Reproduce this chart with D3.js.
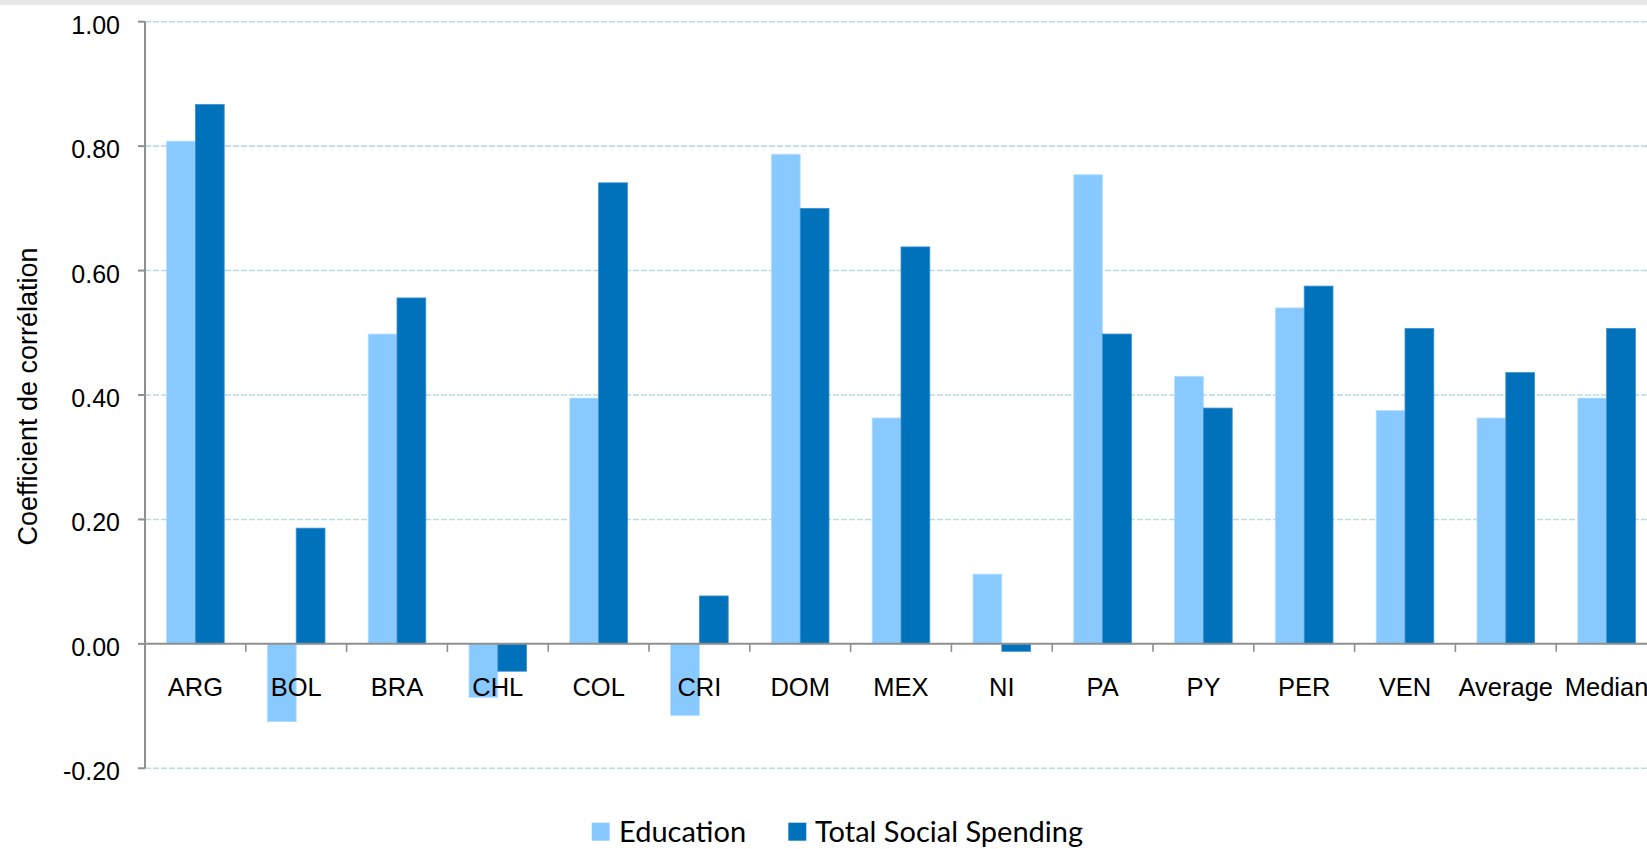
<!DOCTYPE html>
<html>
<head>
<meta charset="utf-8">
<script src="https://cdn.jsdelivr.net/npm/d3@7"></script>
<style>
  html,body{margin:0;padding:0;background:#fff;overflow:hidden;}
  svg{display:block;}
  .tick-y{font-family:"Liberation Sans",Arial,sans-serif;font-size:25px;fill:#000;}
  .tick-x{font-family:"Liberation Sans",Arial,sans-serif;font-size:25.5px;fill:#000;}
  .ytitle{font-family:"Liberation Sans",Arial,sans-serif;font-size:27px;fill:#000;}
  .legend{font-family:Lato,"Open Sans",sans-serif;font-size:29px;fill:#000;}
</style>
</head>
<body>
<svg id="chart" width="1647" height="849"></svg>
<script>
// données
const categories=["ARG","BOL","BRA","CHL","COL","CRI","DOM","MEX","NI","PA","PY","PER","VEN","Average","Median"];
const education=[0.808,-0.125,0.498,-0.086,0.395,-0.115,0.787,0.363,0.112,0.754,0.430,0.540,0.375,0.363,0.395];
const totalSocial=[0.867,0.186,0.556,-0.044,0.741,0.077,0.700,0.638,-0.012,0.498,0.379,0.575,0.507,0.436,0.507];
const seriesNames=["Education","Total Social Spending"];
const seriesColors=["#88caff","#0072bc"];
const strokeColors=["#b3deff","#3b8fd0"];
const yTicks=[-0.2,0,0.2,0.4,0.6,0.8,1.0];

const W=1647,H=849;
const svg=d3.select("#chart");

// bande grise en haut
svg.append("rect").attr("x",0).attr("y",0).attr("width",W).attr("height",5).attr("fill","#e8e8e8");

const plotLeft=145,plotTop=21.7,plotBottom=768.3;
const bandW=100.8;
const x0=d3.scaleBand().domain(categories).range([plotLeft,plotLeft+bandW*categories.length]).padding(0);
const x1=d3.scaleBand().domain(seriesNames).range([0,x0.bandwidth()]).paddingInner(0).paddingOuter(0.75);
const y=d3.scaleLinear().domain([-0.2,1.0]).range([plotBottom,plotTop]);

// grille pointillée
svg.append("g").selectAll("line").data(yTicks.filter(d=>d!==0)).join("line")
  .attr("x1",plotLeft).attr("x2",W)
  .attr("y1",d=>y(d)).attr("y2",d=>y(d))
  .attr("stroke","#b8dde2").attr("stroke-width",1.6).attr("stroke-dasharray","6,2");

// barres
const rows=categories.map((c,i)=>({cat:c,vals:[education[i],totalSocial[i]]}));
const grp=svg.append("g").selectAll("g").data(rows).join("g")
  .attr("transform",d=>`translate(${x0(d.cat)},0)`);
grp.selectAll("rect").data(d=>d.vals.map((v,k)=>({v,k}))).join("rect")
  .attr("x",d=>x1(seriesNames[d.k]))
  .attr("width",x1.bandwidth())
  .attr("y",d=>Math.min(y(d.v),y(0)))
  .attr("height",d=>Math.abs(y(d.v)-y(0)))
  .attr("fill",d=>seriesColors[d.k])
  .attr("stroke",d=>strokeColors[d.k]).attr("stroke-width",0.8);

// axe Y
const axisColor="#8f8f8f";
svg.append("line").attr("x1",plotLeft).attr("x2",plotLeft).attr("y1",plotTop).attr("y2",plotBottom)
  .attr("stroke",axisColor).attr("stroke-width",2);
svg.append("g").selectAll("line").data(yTicks).join("line")
  .attr("x1",plotLeft-7).attr("x2",plotLeft).attr("y1",d=>y(d)).attr("y2",d=>y(d))
  .attr("stroke",axisColor).attr("stroke-width",2);
const fmt=d=>d3.format(".2f")(d).replace("\u2212","-");
svg.append("g").selectAll("text").data(yTicks).join("text")
  .attr("class","tick-y")
  .attr("x",120).attr("y",d=>y(d)+12)
  .attr("text-anchor","end")
  .text(fmt);

// axe X au niveau zéro
const y0=y(0);
svg.append("line").attr("x1",plotLeft).attr("x2",W).attr("y1",y0).attr("y2",y0)
  .attr("stroke",axisColor).attr("stroke-width",2);
svg.append("g").selectAll("line").data(categories).join("line")
  .attr("x1",d=>x0(d)).attr("x2",d=>x0(d)).attr("y1",y0).attr("y2",y0+8)
  .attr("stroke",axisColor).attr("stroke-width",1.6);
svg.append("g").selectAll("text").data(categories).join("text")
  .attr("class","tick-x")
  .attr("x",d=>x0(d)+x0.bandwidth()/2)
  .attr("y",695.5)
  .attr("text-anchor","middle")
  .text(d=>d);

// titre axe Y
svg.append("text").attr("class","ytitle")
  .attr("transform","translate(37,396.5) rotate(-90)")
  .attr("text-anchor","middle")
  .text("Coefficient de corrélation");

// légende
const legendItems=[{name:"Education",x:591.7,tx:619},{name:"Total Social Spending",x:788.3,tx:815}];
const lg=svg.append("g").selectAll("g").data(legendItems).join("g");
lg.append("rect").attr("x",d=>d.x).attr("y",822.7).attr("width",18).attr("height",18)
  .attr("fill",(d,i)=>seriesColors[i]);
lg.append("text").attr("class","legend").attr("x",d=>d.tx).attr("y",841.5).text(d=>d.name);
</script>
</body>
</html>
